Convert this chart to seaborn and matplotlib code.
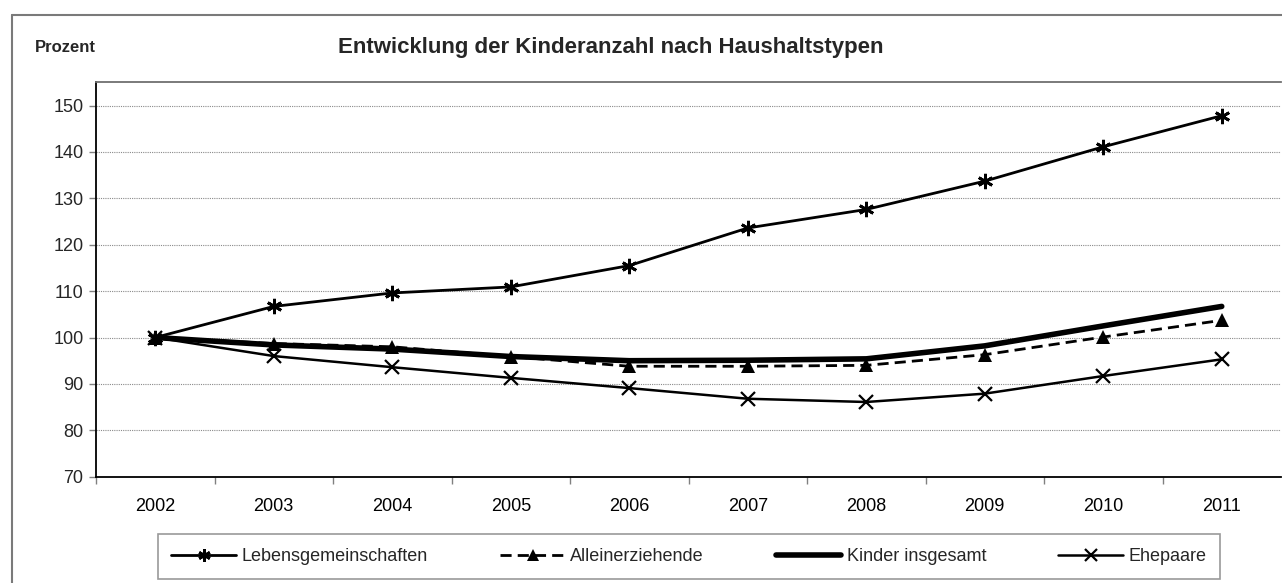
import numpy as np
import pandas as pd
import seaborn as sns
from matplotlib import pyplot as plt
from matplotlib.lines import Line2D

years = ['2002', '2003', '2004', '2005', '2006', '2007', '2008', '2009', '2010', '2011']
lebensgemeinschaften = [100, 106.7, 109.6, 110.9, 115.5, 123.6, 127.6, 133.7, 141.1, 147.8]
alleinerziehende = [100, 98.7, 98.0, 95.9, 93.8, 93.8, 94.0, 96.3, 100.1, 103.7]
kinder_insgesamt = [100, 98.4, 97.5, 95.9, 95.0, 95.1, 95.4, 98.2, 102.5, 106.7]
ehepaare = [100, 96.0, 93.6, 91.3, 89.1, 86.8, 86.1, 87.9, 91.7, 95.3]

series_names = ['Lebensgemeinschaften', 'Alleinerziehende', 'Kinder insgesamt', 'Ehepaare']
y_ticks = [70, 80, 90, 100, 110, 120, 130, 140, 150]

FONT = ['Liberation Sans Narrow', 'Liberation Sans', 'DejaVu Sans']


def build_frame():
    rows = []
    for name, vals in zip(series_names, [lebensgemeinschaften, alleinerziehende, kinder_insgesamt, ehepaare]):
        for i, v in enumerate(vals):
            rows.append({'pos': i, 'year': years[i], 'series': name, 'value': v})
    return pd.DataFrame(rows)


def main():
    sns.set_theme(style='white')
    plt.rcParams['font.family'] = FONT

    df = build_frame()
    fig = plt.figure(figsize=(12.82, 5.83), dpi=100)
    ax = fig.add_axes([96 / 1282, 1 - 476.7 / 583, 1185 / 1282, (476.7 - 82.3) / 583])

    styles = {
        'Lebensgemeinschaften': dict(lw=2.0, ls='-', marker=(6, 2, 0), ms=11, mew=2.0),
        'Alleinerziehende': dict(lw=2.0, ls=(0, (4, 2.2)), marker='^', ms=10, mew=0),
        'Kinder insgesamt': dict(lw=4.0, ls='-', marker=None, ms=0, mew=0),
        'Ehepaare': dict(lw=1.8, ls='-', marker='x', ms=10, mew=1.6),
    }

    handles = []
    for name in series_names:
        st = styles[name]
        sub = df[df['series'] == name]
        sns.lineplot(data=sub, x='pos', y='value', ax=ax, color='black',
                     linewidth=st['lw'], linestyle=st['ls'], marker=st['marker'],
                     markersize=st['ms'], markeredgewidth=st['mew'],
                     markeredgecolor='black', markerfacecolor='black',
                     solid_capstyle='round', legend=False)
        handles.append(Line2D([], [], color='black', lw=st['lw'], ls=st['ls'],
                              marker=st['marker'], markersize=st['ms'] * 0.8,
                              markeredgewidth=st['mew'], markerfacecolor='black',
                              markeredgecolor='black', label=name))

    ax.set_xlim(-0.5, 9.5)
    ax.set_ylim(70, 155)
    ax.set_yticks(y_ticks)
    ax.set_xticks(range(len(years)))
    ax.set_xticklabels(years)
    ax.set_xticks(np.arange(-0.5, 9.5, 1), minor=True)
    ax.set_xlabel('')
    ax.set_ylabel('')

    ax.grid(axis='y', color='#8a8a8a', linestyle=(0, (1, 1)), linewidth=0.8)
    ax.grid(axis='x', visible=False)
    ax.tick_params(axis='x', which='major', length=0, labelsize=13, pad=15, colors='black')
    ax.tick_params(axis='x', which='minor', length=5, width=1, color='#808080', bottom=True)
    ax.tick_params(axis='y', length=5, width=1, color='#808080', labelsize=13, pad=4, left=True)

    for side in ['left', 'bottom']:
        ax.spines[side].set_color('black')
        ax.spines[side].set_linewidth(1.3)
    ax.spines['top'].set_color('#707070')
    ax.spines['top'].set_linewidth(1.3)
    ax.spines['right'].set_visible(False)

    fig.text(611 / 1282, 1 - 47 / 583, 'Entwicklung der Kinderanzahl nach Haushaltstypen',
             ha='center', va='center', fontsize=16, fontweight='bold', family=FONT)
    fig.text(35 / 1282, 1 - 47 / 583, 'Prozent', ha='left', va='center',
             fontsize=12, fontweight='bold', family=FONT)

    # outer chart frame (only left and top edges are visible)
    fig.add_artist(Line2D([12 / 1282, 12 / 1282], [0, 1 - 14.7 / 583], color='#7a7a7a', lw=1.5,
                          transform=fig.transFigure))
    fig.add_artist(Line2D([12 / 1282, 1], [1 - 14.7 / 583, 1 - 14.7 / 583], color='#7a7a7a', lw=1.5,
                          transform=fig.transFigure))

    leg = fig.legend(handles=handles, loc='center', ncol=4,
                     bbox_to_anchor=(689 / 1282, 1 - 556.5 / 583),
                     fontsize=13, frameon=True, fancybox=False, edgecolor='#808080',
                     handlelength=3.6, handletextpad=0.3, columnspacing=4.0,
                     borderpad=0.75)
    leg.get_frame().set_linewidth(1.2)

    plt.savefig('out.png', dpi=100)
    plt.close()


if __name__ == '__main__':
    main()
